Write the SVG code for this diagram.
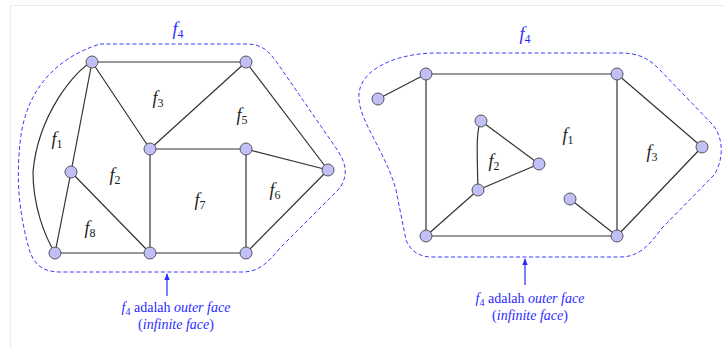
<svg xmlns="http://www.w3.org/2000/svg" width="724" height="349" viewBox="0 0 724 349">
<style>
.edge{stroke:#333;stroke-width:1.2;fill:none}
.node{fill:#c0c0f6;stroke:#555;stroke-width:1}
.outer{stroke:#3c3cff;stroke-width:1;fill:none;stroke-dasharray:4 2.5}
.lbl{font-family:"Liberation Serif","DejaVu Serif","Times New Roman",serif;font-size:18px;fill:#222;text-anchor:middle}
.sub{font-size:12px}
.blue{fill:#2a2aff}
.note{font-family:"Liberation Serif","DejaVu Serif","Times New Roman",serif;font-size:14px;fill:#2a2aff;text-anchor:middle}
.arr{stroke:#2a2aff;stroke-width:1.2;fill:none}
</style>
<defs>
<marker id="ah" viewBox="0 0 10 10" refX="9" refY="5" markerWidth="7" markerHeight="7" orient="auto" markerUnits="userSpaceOnUse">
<path d="M0,1 L10,5 L0,9 Z" fill="#2a2aff"/>
</marker>
</defs>
<rect x="10.5" y="5.5" width="730" height="360" fill="#fff" stroke="#ececec" stroke-width="1"/>

<g id="outer-faces">
<path class="outer" d="M100,44 L245,44 C262,44 268,50 278,64 L336,148 C348,165 348,178 338,190 L280,248 C268,262 260,272 242,272 L60,272 C40,272 32,262 28,245 C20,215 15,180 21,135 C27,95 50,60 100,44 Z"/>
<path class="outer" d="M437,53 L620,53 C638,53 648,58 658,68 L712,124 C724,137 724,160 714,175 L662,228 C650,244 640,257 620,257 L432,257 C418,257 410,250 406,240 L396,190 C392,175 385,160 372,135 C358,108 352,90 370,73 C385,60 410,53 437,53 Z"/>
</g>

<g id="connectors">
<line class="edge" x1="92" y1="62" x2="246" y2="62"/>
<line class="edge" x1="92" y1="62" x2="150" y2="149"/>
<line class="edge" x1="92" y1="62" x2="71" y2="172"/>
<path class="edge" d="M92,62 C75,70 38,115 33,172 C33,205 44,235 55,253"/>
<line class="edge" x1="246" y1="62" x2="150" y2="149"/>
<line class="edge" x1="246" y1="62" x2="328" y2="170"/>
<line class="edge" x1="150" y1="149" x2="246" y2="149"/>
<line class="edge" x1="150" y1="149" x2="150" y2="253"/>
<line class="edge" x1="246" y1="149" x2="328" y2="170"/>
<line class="edge" x1="246" y1="149" x2="246" y2="253"/>
<line class="edge" x1="71" y1="172" x2="55" y2="253"/>
<line class="edge" x1="71" y1="172" x2="150" y2="253"/>
<line class="edge" x1="55" y1="253" x2="150" y2="253"/>
<line class="edge" x1="150" y1="253" x2="246" y2="253"/>
<line class="edge" x1="246" y1="253" x2="328" y2="170"/>

<line class="edge" x1="426" y1="74" x2="617" y2="74"/>
<line class="edge" x1="426" y1="74" x2="378" y2="99"/>
<line class="edge" x1="426" y1="74" x2="426" y2="236"/>
<line class="edge" x1="617" y1="74" x2="617" y2="236"/>
<line class="edge" x1="617" y1="74" x2="702" y2="147"/>
<line class="edge" x1="702" y1="147" x2="617" y2="236"/>
<line class="edge" x1="426" y1="236" x2="617" y2="236"/>
<line class="edge" x1="426" y1="236" x2="478" y2="190"/>
<path class="edge" d="M481,121 C476,130 477,150 478,190"/>
<line class="edge" x1="481" y1="121" x2="539" y2="164"/>
<line class="edge" x1="539" y1="164" x2="478" y2="190"/>
<line class="edge" x1="570" y1="199" x2="617" y2="236"/>

<line class="arr" x1="167" y1="296" x2="167" y2="274" marker-end="url(#ah)"/>
<line class="arr" x1="525" y1="285" x2="525" y2="259" marker-end="url(#ah)"/>
</g>

<g id="n-a"><circle class="node" cx="92" cy="62" r="6"/></g>
<g id="n-b"><circle class="node" cx="246" cy="62" r="6"/></g>
<g id="n-c"><circle class="node" cx="150" cy="149" r="6"/></g>
<g id="n-d"><circle class="node" cx="246" cy="149" r="6"/></g>
<g id="n-e"><circle class="node" cx="328" cy="170" r="6"/></g>
<g id="n-f"><circle class="node" cx="71" cy="172" r="6"/></g>
<g id="n-g"><circle class="node" cx="55" cy="253" r="6"/></g>
<g id="n-h"><circle class="node" cx="150" cy="253" r="6"/></g>
<g id="n-i"><circle class="node" cx="246" cy="253" r="6"/></g>

<g id="n-p0"><circle class="node" cx="378" cy="99" r="6"/></g>
<g id="n-p1"><circle class="node" cx="426" cy="74" r="6"/></g>
<g id="n-p2"><circle class="node" cx="617" cy="74" r="6"/></g>
<g id="n-p3"><circle class="node" cx="481" cy="121" r="6"/></g>
<g id="n-p4"><circle class="node" cx="539" cy="164" r="6"/></g>
<g id="n-p5"><circle class="node" cx="702" cy="147" r="6"/></g>
<g id="n-p6"><circle class="node" cx="478" cy="190" r="6"/></g>
<g id="n-p7"><circle class="node" cx="426" cy="236" r="6"/></g>
<g id="n-p8"><circle class="node" cx="617" cy="236" r="6"/></g>
<g id="n-p9"><circle class="node" cx="570" cy="199" r="6"/></g>

<g id="face-labels">
<text class="lbl" x="57" y="145"><tspan font-style="italic">f</tspan><tspan class="sub" dy="3">1</tspan></text>
<text class="lbl" x="115" y="181"><tspan font-style="italic">f</tspan><tspan class="sub" dy="3">2</tspan></text>
<text class="lbl" x="158" y="104"><tspan font-style="italic">f</tspan><tspan class="sub" dy="3">3</tspan></text>
<text class="lbl" x="242" y="121"><tspan font-style="italic">f</tspan><tspan class="sub" dy="3">5</tspan></text>
<text class="lbl" x="275" y="196"><tspan font-style="italic">f</tspan><tspan class="sub" dy="3">6</tspan></text>
<text class="lbl" x="200" y="206"><tspan font-style="italic">f</tspan><tspan class="sub" dy="3">7</tspan></text>
<text class="lbl" x="90" y="234"><tspan font-style="italic">f</tspan><tspan class="sub" dy="3">8</tspan></text>
<text class="lbl blue" x="178" y="35"><tspan font-style="italic">f</tspan><tspan class="sub" dy="3">4</tspan></text>

<text class="lbl" x="568" y="141"><tspan font-style="italic">f</tspan><tspan class="sub" dy="3">1</tspan></text>
<text class="lbl" x="494" y="167"><tspan font-style="italic">f</tspan><tspan class="sub" dy="3">2</tspan></text>
<text class="lbl" x="652" y="158"><tspan font-style="italic">f</tspan><tspan class="sub" dy="3">3</tspan></text>
<text class="lbl blue" x="525" y="40"><tspan font-style="italic">f</tspan><tspan class="sub" dy="3">4</tspan></text>
</g>

<g id="notes">
<text class="note" x="176" y="312"><tspan font-style="italic">f</tspan><tspan font-size="10" dy="2.5">4</tspan><tspan dy="-2.5"> adalah </tspan><tspan font-style="italic">outer face</tspan></text>
<text class="note" x="176" y="329">(<tspan font-style="italic">infinite face</tspan>)</text>
<text class="note" x="530" y="303"><tspan font-style="italic">f</tspan><tspan font-size="10" dy="2.5">4</tspan><tspan dy="-2.5"> adalah </tspan><tspan font-style="italic">outer face</tspan></text>
<text class="note" x="530" y="320">(<tspan font-style="italic">infinite face</tspan>)</text>
</g>
</svg>
